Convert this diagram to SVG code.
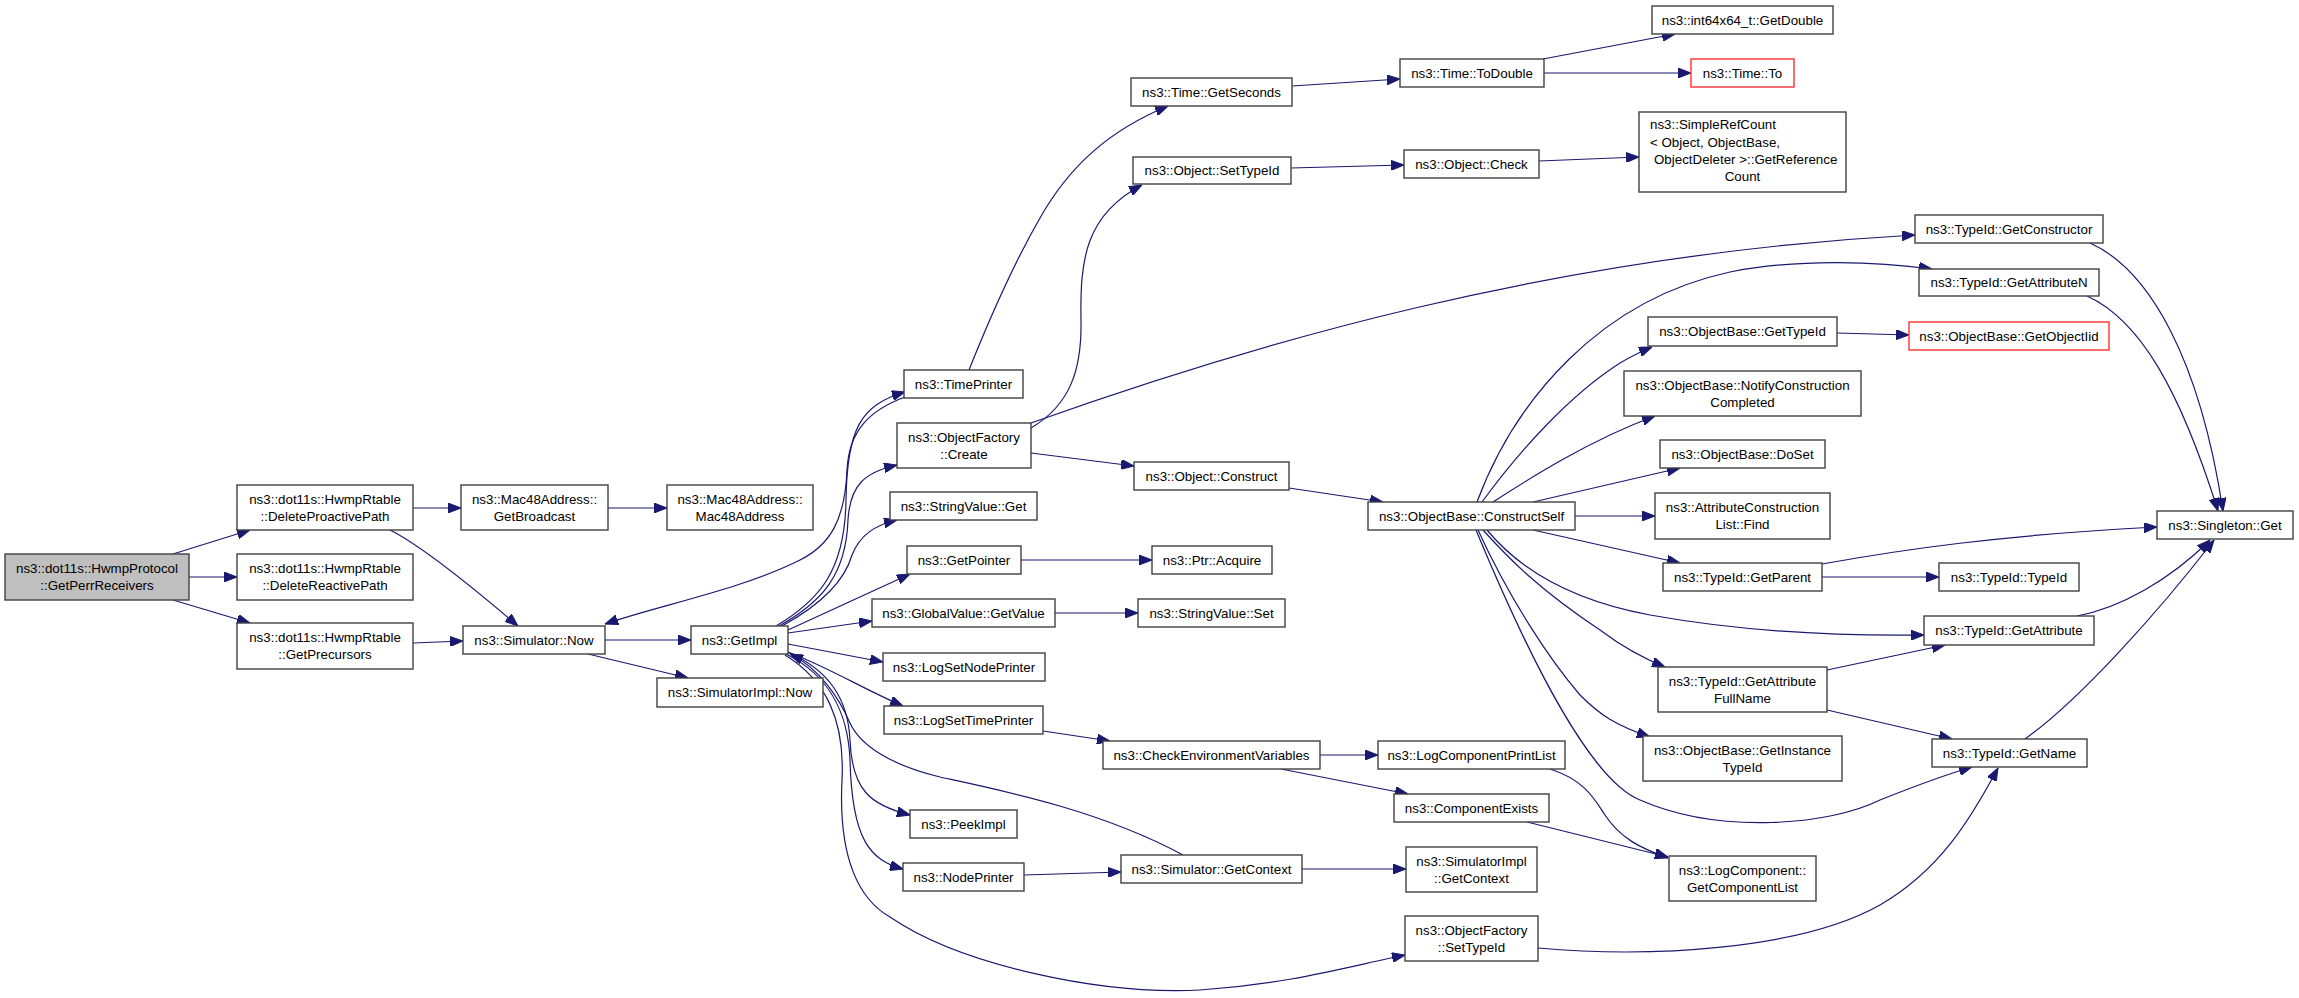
<svg xmlns="http://www.w3.org/2000/svg" width="2299" height="998" viewBox="0 0 2299 998">
<style>
rect{fill:#ffffff;stroke:#404040;stroke-width:1.4}
rect.root{fill:#bfbfbf}
rect.red{stroke:#ff3030}
text{font-family:"Liberation Sans",Arial,Helvetica,sans-serif;font-size:13.33px;text-anchor:middle;fill:#000}
text.l{text-anchor:start}
#edges path{fill:none;stroke:#191970;stroke-width:1.2;marker-end:url(#ah)}
</style>
<defs>
<marker id="ah" markerUnits="userSpaceOnUse" markerWidth="13" markerHeight="10" viewBox="0 0 13 10" refX="13" refY="5" orient="auto">
<path d="M0,0 L13,5 L0,10 z" fill="#191970" stroke="#191970" stroke-width="1"/>
</marker>
</defs>
<rect x="0" y="0" width="2299" height="998" style="fill:#fff;stroke:none"/>
<g id="edges">
<path d="M173,554 L250,530"/>
<path d="M189,577 L237,577"/>
<path d="M173,600 L250,623"/>
<path d="M413,508 L461,508"/>
<path d="M390,530 C420,545 470,585 518,626"/>
<path d="M608,508 L667,508"/>
<path d="M413,643 L463,641"/>
<path d="M605,640 L691,640"/>
<path d="M588,654 L688,678"/>
<path d="M905,397 C870,410 849,430 847,470 C845,520 830,545 800,560 C740,590 660,605 605,624"/>
<path d="M776,626 C820,600 845,570 846,500 C847,430 860,405 905,392"/>
<path d="M779,626 C822,602 846,575 848,520 C850,485 865,472 897,465"/>
<path d="M782,626 C822,604 845,580 852,555 C860,535 875,525 897,520"/>
<path d="M788,630 L910,574"/>
<path d="M788,633 L872,621"/>
<path d="M788,644 L883,662"/>
<path d="M788,652 C830,668 865,690 903,706"/>
<path d="M787,652 C830,670 848,700 850,740 C852,790 870,805 910,815"/>
<path d="M786,654 C828,675 848,710 850,760 C852,840 870,860 903,869"/>
<path d="M785,655 C826,680 845,720 842,780 C838,860 860,900 890,917 C960,965 1100,995 1200,990 C1290,984 1350,966 1405,955"/>
<path d="M1183,855 C1100,810 1000,790 940,777 C890,765 860,745 850,723 C840,700 820,668 790,654"/>
<path d="M969,370 C985,330 1010,270 1040,218 C1070,165 1110,130 1168,106"/>
<path d="M1031,428 C1070,405 1082,370 1081,320 C1080,260 1085,215 1142,185"/>
<path d="M1031,423 C1250,345 1550,255 1915,235"/>
<path d="M1031,453 L1134,466"/>
<path d="M1292,86 L1400,79"/>
<path d="M1543,59 L1675,34"/>
<path d="M1544,73 L1691,73"/>
<path d="M1291,168 L1404,165"/>
<path d="M1539,161 L1639,157"/>
<path d="M1289,488 L1383,502"/>
<path d="M1021,560 L1152,560"/>
<path d="M1055,613 L1138,613"/>
<path d="M1043,731 L1110,741"/>
<path d="M1320,755 L1378,755"/>
<path d="M1281,769 L1408,794"/>
<path d="M1550,769 C1585,780 1595,800 1605,815 C1620,838 1640,848 1668,858"/>
<path d="M1527,822 L1668,857"/>
<path d="M1024,875 L1121,872"/>
<path d="M1302,869 L1406,869"/>
<path d="M1482,502 C1520,450 1570,395 1620,363 C1632,356 1642,351 1652,347"/>
<path d="M1493,502 C1530,478 1590,440 1655,416"/>
<path d="M1533,502 L1680,468"/>
<path d="M1575,516 L1655,516"/>
<path d="M1533,530 L1680,563"/>
<path d="M1477,502 C1515,400 1600,300 1730,272 C1800,258 1880,262 1932,269"/>
<path d="M1487,530 C1520,570 1570,600 1650,615 C1750,633 1850,636 1924,635"/>
<path d="M1483,530 C1510,560 1540,590 1600,630 C1620,645 1640,657 1665,667"/>
<path d="M1478,530 C1510,600 1550,660 1580,695 C1600,715 1615,725 1650,737"/>
<path d="M1476,530 C1530,660 1590,780 1640,800 C1720,835 1830,825 1880,800 C1930,780 1955,772 1972,767"/>
<path d="M1837,333 L1909,335"/>
<path d="M1822,564 C1900,550 2000,535 2157,527"/>
<path d="M1822,577 L1939,577"/>
<path d="M1827,670 L1945,645"/>
<path d="M1827,710 L1952,739"/>
<path d="M2090,243 C2150,270 2200,360 2223,511"/>
<path d="M2087,296 C2140,320 2180,390 2218,511"/>
<path d="M2077,616 C2120,608 2170,580 2210,540"/>
<path d="M2025,739 C2080,700 2160,610 2214,540"/>
<path d="M1538,948 C1650,958 1800,950 1880,905 C1940,870 1970,820 1998,768"/>
</g>
<g id="n1"><rect class="root" x="5" y="554" width="184" height="46"/><text x="97" y="573">ns3::dot11s::HwmpProtocol</text><text x="97" y="590">::GetPerrReceivers</text></g>
<g id="n2"><rect x="237" y="485" width="176" height="45"/><text x="325" y="504">ns3::dot11s::HwmpRtable</text><text x="325" y="521">::DeleteProactivePath</text></g>
<g id="n3"><rect x="237" y="554" width="176" height="46"/><text x="325" y="573">ns3::dot11s::HwmpRtable</text><text x="325" y="590">::DeleteReactivePath</text></g>
<g id="n4"><rect x="237" y="623" width="176" height="46"/><text x="325" y="642">ns3::dot11s::HwmpRtable</text><text x="325" y="659">::GetPrecursors</text></g>
<g id="n5"><rect x="461" y="485" width="147" height="45"/><text x="534.5" y="504">ns3::Mac48Address::</text><text x="534.5" y="521">GetBroadcast</text></g>
<g id="n6"><rect x="667" y="485" width="146" height="45"/><text x="740" y="504">ns3::Mac48Address::</text><text x="740" y="521">Mac48Address</text></g>
<g id="n7"><rect x="463" y="626" width="142" height="28"/><text x="534" y="645">ns3::Simulator::Now</text></g>
<g id="n8"><rect x="691" y="626" width="97" height="28"/><text x="739.5" y="645">ns3::GetImpl</text></g>
<g id="n9"><rect x="657" y="678" width="166" height="29"/><text x="740" y="697">ns3::SimulatorImpl::Now</text></g>
<g id="n10"><rect x="904" y="370" width="119" height="28"/><text x="963.5" y="389">ns3::TimePrinter</text></g>
<g id="n11"><rect x="897" y="423" width="134" height="45"/><text x="964" y="442">ns3::ObjectFactory</text><text x="964" y="459">::Create</text></g>
<g id="n12"><rect x="890" y="492" width="147" height="28"/><text x="963.5" y="511">ns3::StringValue::Get</text></g>
<g id="n13"><rect x="907" y="546" width="114" height="28"/><text x="964" y="565">ns3::GetPointer</text></g>
<g id="n14"><rect x="872" y="599" width="183" height="28"/><text x="963.5" y="618">ns3::GlobalValue::GetValue</text></g>
<g id="n15"><rect x="883" y="653" width="162" height="28"/><text x="964" y="672">ns3::LogSetNodePrinter</text></g>
<g id="n16"><rect x="884" y="706" width="159" height="28"/><text x="963.5" y="725">ns3::LogSetTimePrinter</text></g>
<g id="n17"><rect x="910" y="810" width="107" height="28"/><text x="963.5" y="829">ns3::PeekImpl</text></g>
<g id="n18"><rect x="903" y="863" width="121" height="28"/><text x="963.5" y="882">ns3::NodePrinter</text></g>
<g id="n19"><rect x="1131" y="78" width="161" height="28"/><text x="1211.5" y="97">ns3::Time::GetSeconds</text></g>
<g id="n20"><rect x="1133" y="157" width="158" height="27"/><text x="1212" y="175">ns3::Object::SetTypeId</text></g>
<g id="n21"><rect x="1134" y="462" width="155" height="28"/><text x="1211.5" y="481">ns3::Object::Construct</text></g>
<g id="n22"><rect x="1152" y="546" width="120" height="28"/><text x="1212" y="565">ns3::Ptr::Acquire</text></g>
<g id="n23"><rect x="1138" y="599" width="147" height="28"/><text x="1211.5" y="618">ns3::StringValue::Set</text></g>
<g id="n24"><rect x="1103" y="741" width="217" height="28"/><text x="1211.5" y="760">ns3::CheckEnvironmentVariables</text></g>
<g id="n25"><rect x="1121" y="855" width="181" height="28"/><text x="1211.5" y="874">ns3::Simulator::GetContext</text></g>
<g id="n26"><rect x="1400" y="59" width="144" height="28"/><text x="1472" y="78">ns3::Time::ToDouble</text></g>
<g id="n27"><rect x="1404" y="150" width="135" height="28"/><text x="1471.5" y="169">ns3::Object::Check</text></g>
<g id="n28"><rect x="1368" y="502" width="207" height="28"/><text x="1471.5" y="521">ns3::ObjectBase::ConstructSelf</text></g>
<g id="n29"><rect x="1378" y="741" width="187" height="28"/><text x="1471.5" y="760">ns3::LogComponentPrintList</text></g>
<g id="n30"><rect x="1394" y="794" width="155" height="28"/><text x="1471.5" y="813">ns3::ComponentExists</text></g>
<g id="n31"><rect x="1406" y="847" width="131" height="45"/><text x="1471.5" y="866">ns3::SimulatorImpl</text><text x="1471.5" y="883">::GetContext</text></g>
<g id="n32"><rect x="1405" y="916" width="133" height="45"/><text x="1471.5" y="935">ns3::ObjectFactory</text><text x="1471.5" y="952">::SetTypeId</text></g>
<g id="n33"><rect x="1652" y="6" width="181" height="28"/><text x="1742.5" y="25">ns3::int64x64_t::GetDouble</text></g>
<g id="n34"><rect class="red" x="1691" y="59" width="103" height="28"/><text x="1742.5" y="78">ns3::Time::To</text></g>
<g id="n35"><rect x="1639" y="112" width="207" height="80"/><text class="l" x="1650" y="129">ns3::SimpleRefCount</text><text class="l" x="1650" y="147">&lt; Object, ObjectBase,</text><text class="l" x="1654" y="164">ObjectDeleter &gt;::GetReference</text><text x="1742.5" y="181">Count</text></g>
<g id="n36"><rect x="1648" y="317" width="189" height="29"/><text x="1742.5" y="336">ns3::ObjectBase::GetTypeId</text></g>
<g id="n37"><rect x="1624" y="371" width="237" height="45"/><text x="1742.5" y="390">ns3::ObjectBase::NotifyConstruction</text><text x="1742.5" y="407">Completed</text></g>
<g id="n38"><rect x="1660" y="440" width="165" height="28"/><text x="1742.5" y="459">ns3::ObjectBase::DoSet</text></g>
<g id="n39"><rect x="1655" y="493" width="175" height="46"/><text x="1742.5" y="512">ns3::AttributeConstruction</text><text x="1742.5" y="529">List::Find</text></g>
<g id="n40"><rect x="1663" y="563" width="159" height="28"/><text x="1742.5" y="582">ns3::TypeId::GetParent</text></g>
<g id="n41"><rect x="1658" y="667" width="169" height="45"/><text x="1742.5" y="686">ns3::TypeId::GetAttribute</text><text x="1742.5" y="703">FullName</text></g>
<g id="n42"><rect x="1643" y="736" width="199" height="45"/><text x="1742.5" y="755">ns3::ObjectBase::GetInstance</text><text x="1742.5" y="772">TypeId</text></g>
<g id="n43"><rect x="1669" y="856" width="147" height="45"/><text x="1742.5" y="875">ns3::LogComponent::</text><text x="1742.5" y="892">GetComponentList</text></g>
<g id="n44"><rect x="1915" y="215" width="188" height="28"/><text x="2009" y="234">ns3::TypeId::GetConstructor</text></g>
<g id="n45"><rect x="1919" y="269" width="180" height="27"/><text x="2009" y="287">ns3::TypeId::GetAttributeN</text></g>
<g id="n46"><rect class="red" x="1909" y="322" width="200" height="28"/><text x="2009" y="341">ns3::ObjectBase::GetObjectIid</text></g>
<g id="n47"><rect x="2157" y="511" width="136" height="28"/><text x="2225" y="530">ns3::Singleton::Get</text></g>
<g id="n48"><rect x="1939" y="563" width="140" height="28"/><text x="2009" y="582">ns3::TypeId::TypeId</text></g>
<g id="n49"><rect x="1924" y="616" width="170" height="29"/><text x="2009" y="635">ns3::TypeId::GetAttribute</text></g>
<g id="n50"><rect x="1932" y="739" width="155" height="28"/><text x="2009.5" y="758">ns3::TypeId::GetName</text></g>
</svg>
